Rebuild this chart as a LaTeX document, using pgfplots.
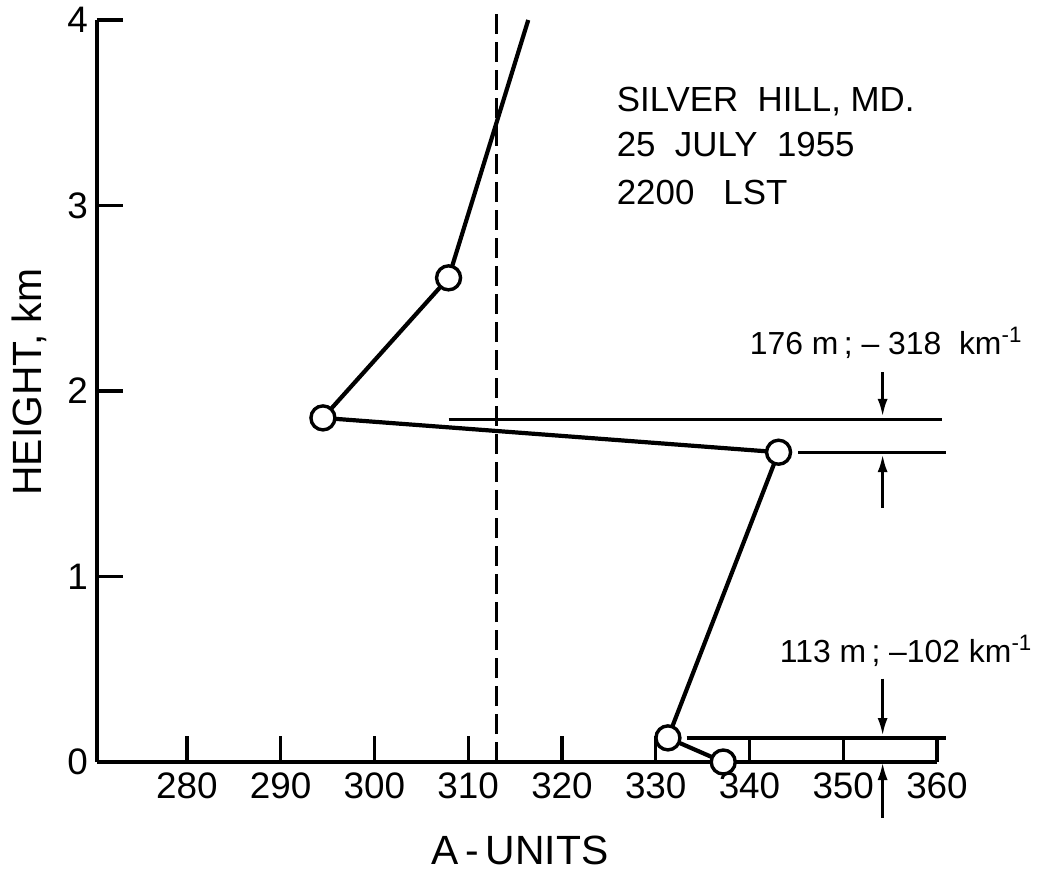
\documentclass[border=0pt]{standalone}
\usepackage{pgfplots}
\pgfplotsset{compat=1.18}
\usepackage{fontspec}
\setmainfont{Liberation Sans}
\usetikzlibrary{arrows.meta}

\begin{document}
\begin{tikzpicture}
\begin{axis}[
  scale only axis, width=420bp, height=371bp,
  xmin=270.4, xmax=360, ymin=0, ymax=4,
  axis x line=bottom, axis y line=left,
  axis line style={-, line width=1.9bp},
  xtick={280,290,...,360}, ytick={0,1,2,3,4},
  tick align=inside, major tick length=13bp,
  tick style={line width=1.6bp, black},
  /pgf/number format/assume math mode=true,
  /pgf/number format/1000 sep={},
  ticklabel style={font=\fontsize{18.5}{21}\selectfont},
  xticklabel style={yshift=-2bp},
  yticklabel style={xshift=-1bp},
  xlabel={A\,-\,UNITS},
  xlabel style={font=\fontsize{20.5}{24}\selectfont, at={(rel axis cs:0.5036,0)}, anchor=center, yshift=-44bp},
  ylabel={HEIGHT, km},
  ylabel style={font=\fontsize{20.5}{24}\selectfont, at={(rel axis cs:0,0.512)}, anchor=center, yshift=34bp},
  clip=false,
]
% dashed reference line
\addplot[black, line width=1.5bp, dash pattern=on 10bp off 4bp] coordinates {(313.0,0) (313.0,4.05)};
% profile
\addplot[black, line width=2.1bp] coordinates {(337.2,0) (331.3,0.13) (343.1,1.67) (294.5,1.855) (307.9,2.61) (316.4,4.0)};
\addplot[black, line width=1.7bp, only marks, mark=*, mark size=6bp, mark options={fill=white}] coordinates {(337.2,0) (331.3,0.13) (343.1,1.67) (294.5,1.855) (307.9,2.61)};
% layer boundary lines
\addplot[black, line width=1.7bp] coordinates {(307.9,1.845) (360.5,1.845)};
\addplot[black, line width=1.7bp] coordinates {(345.2,1.67) (361,1.67)};
\addplot[black, line width=1.7bp] coordinates {(330,0) (330,0.13) (331,0.13)};
\addplot[black, line width=1.7bp] coordinates {(333.3,0.13) (361,0.13)};
% arrows
\addplot[black, line width=1.5bp, -{Latex[length=9bp,width=5bp]}] coordinates {(354.2,2.10) (354.2,1.86)};
\addplot[black, line width=1.5bp, -{Latex[length=9bp,width=5bp]}] coordinates {(354.2,1.37) (354.2,1.66)};
\addplot[black, line width=1.5bp, -{Latex[length=9bp,width=5bp]}] coordinates {(354.2,0.45) (354.2,0.14)};
\addplot[black, line width=1.5bp, -{Latex[length=9bp,width=5bp]}] coordinates {(354.2,-0.30) (354.2,0)};
% annotations
\node[anchor=west, font=\fontsize{17.5}{20}\selectfont, align=left] at (axis cs:325.1,3.56) {SILVER\ \ HILL, MD.};
\node[anchor=west, font=\fontsize{17.5}{20}\selectfont] at (axis cs:325.1,3.33) {25\ \ JULY\ \ 1955};
\node[anchor=west, font=\fontsize{17.5}{20}\selectfont] at (axis cs:325.1,3.07) {2200\ \ \ LST};
\node[anchor=west, font=\fontsize{16}{19}\selectfont] at (axis cs:339.3,2.26) {176 m\,; -- 318\ \ km\textsuperscript{-1}};
\node[anchor=west, font=\fontsize{16}{19}\selectfont] at (axis cs:342.5,0.60) {113 m\,; --102 km\textsuperscript{-1}};
\coordinate (bl) at (rel axis cs:0,0);
\coordinate (tr) at (rel axis cs:1,1);
\end{axis}
\pgfresetboundingbox
\path ([shift={(-48.5bp,-57.5bp)}]bl) rectangle ([shift={(54bp,10bp)}]tr);
\end{tikzpicture}
\end{document}
